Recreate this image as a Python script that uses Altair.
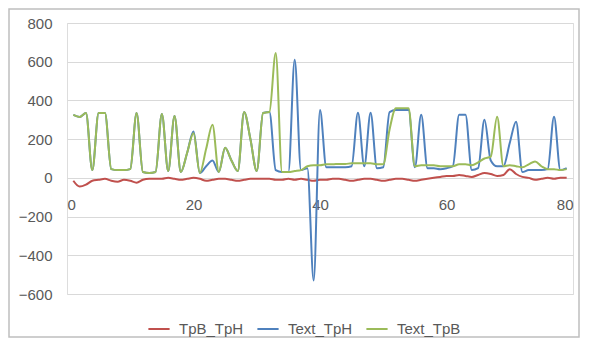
import altair as alt
import pandas as pd

x_vals = list(range(1, 80))

tpb_tph = [-15, -45, -35, -15, -10, -5, -15, -20, -10, -15,
           -25, -10, -5, -5, -5, 0, -5, -10, -5, 0,
           -5, -15, -10, -5, -5, -10, -15, -10, -5, -5,
           -5, -5, -10, -10, -5, -10, -5, -10, -15, -10,
           -10, -5, -5, -10, -15, -10, -5, -5, -10, -15,
           -10, -5, -5, -10, -15, -10, -5, 0, 5, 10,
           10, 15, 10, 5, 15, 25, 20, 10, 15, 45,
           20, 5, 0, -10, -5, 0, -5, 0, 0]

text_tph = [325, 315, 335, 40, 335, 335, 45, 40, 40, 45,
            335, 30, 25, 30, 330, 35, 320, 30, 130, 240,
            25, 60, 90, 30, 155, 90, 35, 340, 200, 35,
            335, 340, 40, 30, 30, 610, 40, 50, -530, 350,
            55, 55, 55, 55, 60, 336, 60, 336, 50, 55,
            340, 350, 350, 350, 55, 326, 50, 50, 45, 50,
            60, 326, 326, 40, 50, 300, 90, 60, 60, 180,
            290, 30, 40, 40, 40, 45, 316, 40, 50]

text_tpb = [325, 315, 335, 40, 335, 335, 45, 40, 40, 45,
            335, 30, 25, 30, 330, 35, 320, 30, 130, 230,
            25, 150, 275, 30, 155, 90, 35, 340, 200, 35,
            335, 340, 645, 30, 30, 35, 40, 60, 65, 65,
            70, 70, 72, 72, 75, 75, 75, 75, 70, 70,
            250, 360, 360, 360, 60, 65, 65, 65, 60, 60,
            60, 70, 70, 65, 80, 100, 110, 316, 60, 65,
            60, 55, 70, 85, 60, 45, 45, 40, 45]

series_names = ["TpB_TpH", "Text_TpH", "Text_TpB"]
series_colors = ["#C0504D", "#4F81BD", "#9BBB59"]
x_ticks = [0, 20, 40, 60, 80]
y_ticks = [-600, -400, -200, 0, 200, 400, 600, 800]

rows = []
for i, (name, vals) in enumerate(zip(series_names, [tpb_tph, text_tph, text_tpb])):
    for xv, yv in zip(x_vals, vals):
        rows.append({"x": xv, "value": yv, "series": name, "ord": i})
df = pd.DataFrame(rows)

FONT = "Liberation Sans"
TXT = "#595959"

lines = alt.Chart(df).mark_line(strokeWidth=2, interpolate="monotone").encode(
    x=alt.X("x:Q", scale=alt.Scale(domain=[0, 80], nice=False),
            axis=alt.Axis(values=x_ticks, title=None, grid=False, ticks=False,
                          domain=False, offset=-116, labelPadding=19,
                          labelFont=FONT, labelFontSize=15, labelColor=TXT)),
    y=alt.Y("value:Q", scale=alt.Scale(domain=[-600, 800], nice=False, zero=False),
            axis=alt.Axis(values=y_ticks, title=None, ticks=False, domain=False,
                          gridColor="#D9D9D9", gridWidth=1, labelPadding=15,
                          labelFont=FONT, labelFontSize=15, labelColor=TXT)),
    color=alt.Color("series:N", sort=series_names,
                    scale=alt.Scale(domain=series_names, range=series_colors),
                    legend=alt.Legend(title=None, orient="none", direction="horizontal",
                                      legendX=80, legendY=294, columns=3,
                                      symbolType="stroke", symbolSize=450,
                                      symbolStrokeWidth=2, labelFont=FONT,
                                      labelFontSize=15, labelColor=TXT,
                                      columnPadding=9, labelOffset=8)),
    order=alt.Order("ord:Q"),
    detail="series:N",
)

border = alt.Chart(pd.DataFrame({"a": [0]})).mark_rect(
    fill=None, stroke="#BFBFBF", strokeWidth=1.5
).encode(
    x=alt.value(-58), x2=alt.value(512), y=alt.value(-14), y2=alt.value(314)
)

chart = alt.layer(border, lines).properties(
    width=506, height=271,
    autosize="none",
    padding={"left": 59, "top": 15, "right": 8, "bottom": 45},
).configure_view(stroke=None).configure(background="white")

chart.save("out.html", embed_options={"renderer": "svg", "actions": False})
